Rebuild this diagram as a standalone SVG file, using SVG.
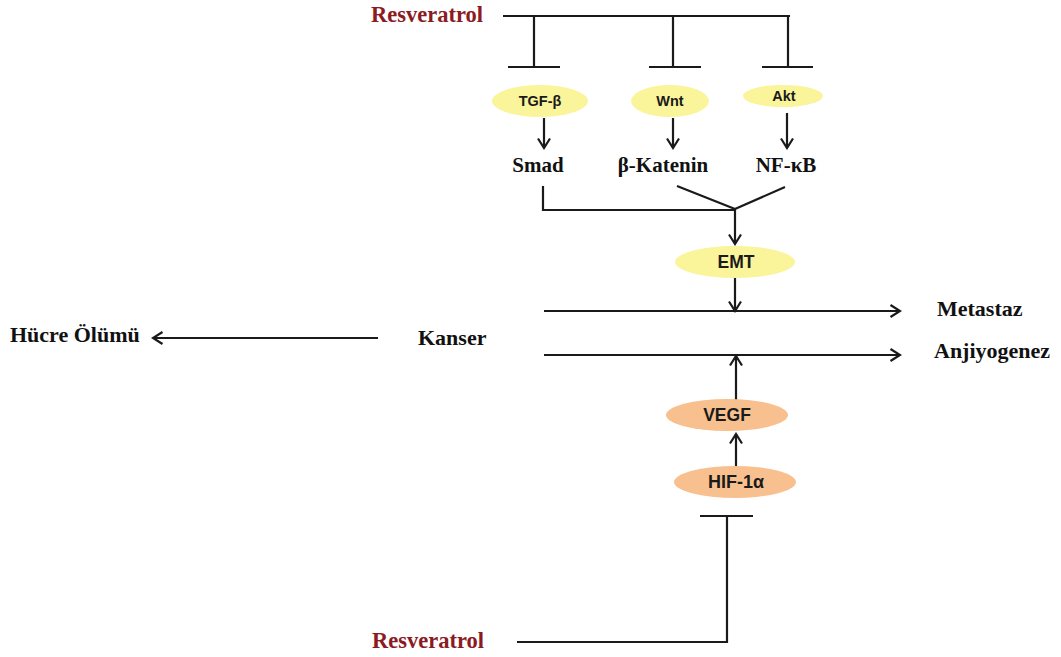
<svg xmlns="http://www.w3.org/2000/svg" width="1061" height="657" viewBox="0 0 1061 657">
<defs>
<marker id="arr" markerUnits="userSpaceOnUse" markerWidth="14" markerHeight="14" viewBox="0 0 14 14" refX="12" refY="7" orient="auto">
<path d="M2.5,1 L12,7 L2.5,13" fill="none" stroke="#1a1a1a" stroke-width="2.2"/>
</marker>
</defs>
<style>
.ln{fill:none;stroke:#1a1a1a;stroke-width:2.2}
.lbl{font-family:"Liberation Serif","Times New Roman",serif;font-weight:bold;font-size:22px;fill:#111}
.sm{font-size:21px}
.res{font-family:"Liberation Serif","Times New Roman",serif;font-weight:bold;font-size:22.5px;fill:#8b1a22}
.yel{fill:#faf49a}
.org{fill:#f8c08e}
.nt{font-family:"Liberation Sans",Arial,sans-serif;font-weight:bold;fill:#1a1a1a;text-anchor:middle}
</style>
<rect width="1061" height="657" fill="#fff"/>

<g id="connectors">
<path class="ln" d="M503,16 H790 M534,16 V67 M673,16 V67 M788,16 V67 M508,67 H560 M649,67 H701 M762,67 H813"/>
<path class="ln" marker-end="url(#arr)" d="M544,118 V148"/>
<path class="ln" marker-end="url(#arr)" d="M673,118 V148"/>
<path class="ln" marker-end="url(#arr)" d="M787,113 V148"/>
<path class="ln" d="M543,186 V210 H735 M677,186 L735,209 M785,187 L735,209"/>
<path class="ln" marker-end="url(#arr)" d="M735,209 V244"/>
<path class="ln" marker-end="url(#arr)" d="M735,278 V311"/>
<path class="ln" marker-end="url(#arr)" d="M544,311 H900"/>
<path class="ln" marker-end="url(#arr)" d="M544,355 H900"/>
<path class="ln" marker-end="url(#arr)" d="M736,400 V356"/>
<path class="ln" marker-end="url(#arr)" d="M736,467 V434"/>
<path class="ln" marker-end="url(#arr)" d="M378,338 H153"/>
<path class="ln" d="M517,642 H727 V516 M700,516 H753"/>
</g>

<g id="resveratrol-top"><text class="res" x="371" y="22">Resveratrol</text></g>
<g id="resveratrol-bottom"><text class="res" x="372" y="648">Resveratrol</text></g>

<g id="tgfb"><ellipse class="yel" cx="540" cy="101" rx="48" ry="16"/><text class="nt" x="540" y="106" font-size="14.5">TGF-β</text></g>
<g id="wnt"><ellipse class="yel" cx="670" cy="101" rx="39" ry="16"/><text class="nt" x="670" y="106" font-size="14.5">Wnt</text></g>
<g id="akt"><ellipse class="yel" cx="783" cy="96" rx="40" ry="11"/><text class="nt" x="784" y="101" font-size="14.5">Akt</text></g>

<g id="smad"><text class="lbl sm" x="538" y="172" text-anchor="middle">Smad</text></g>
<g id="bkatenin"><text class="lbl sm" x="663" y="172" text-anchor="middle">β-Katenin</text></g>
<g id="nfkb"><text class="lbl sm" x="786" y="172" text-anchor="middle">NF-κB</text></g>

<g id="emt"><ellipse class="yel" cx="735" cy="262" rx="60" ry="16"/><text class="nt" x="736" y="268" font-size="17.5">EMT</text></g>

<g id="metastaz"><text class="lbl" x="937" y="316">Metastaz</text></g>
<g id="anjiyogenez"><text class="lbl" x="934" y="358">Anjiyogenez</text></g>
<g id="kanser"><text class="lbl" x="418" y="345">Kanser</text></g>
<g id="hucre"><text class="lbl" x="10" y="342">Hücre Ölümü</text></g>

<g id="vegf"><ellipse class="org" cx="727" cy="415" rx="61" ry="16"/><text class="nt" x="727" y="421" font-size="17.5">VEGF</text></g>
<g id="hif"><ellipse class="org" cx="735" cy="482" rx="61" ry="16"/><text class="nt" x="736" y="488" font-size="18">HIF-1α</text></g>
</svg>
